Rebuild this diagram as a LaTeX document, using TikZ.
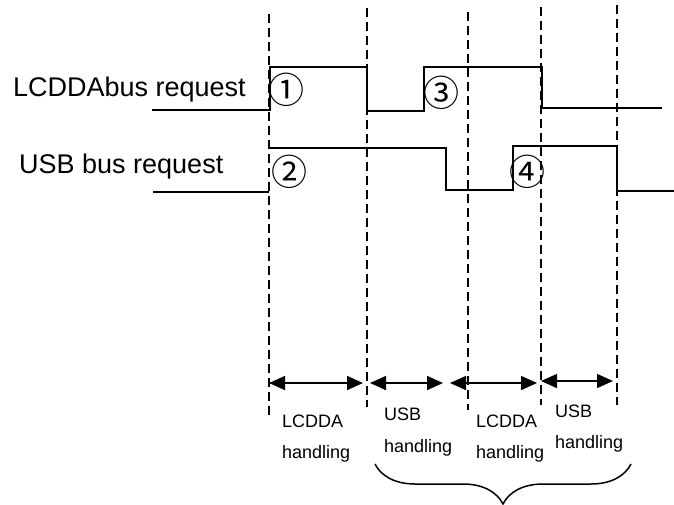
\documentclass[tikz,border=0pt]{standalone}
\usepackage{fontspec}
\setmainfont{Liberation Sans}
\newfontfamily\circfont{Noto Sans CJK SC}
\usetikzlibrary{arrows.meta,decorations.pathreplacing}

\begin{document}
\begin{tikzpicture}[x=1pt,y=-1pt,>={Triangle[length=16pt,width=14pt]}]
\useasboundingbox (0,0) rectangle (674,504);
\tikzset{tmark/.style={line width=1.5pt,dash pattern=on 9pt off 5pt},
  sig/.style={line width=1.9pt},
  big/.style={font=\fontsize{27}{30}\selectfont,inner sep=0pt},
  small/.style={font=\fontsize{18}{20}\selectfont,inner sep=0pt,anchor=base west},
  circnum/.style={font=\circfont\fontsize{36}{38}\selectfont,inner sep=0pt}}
% time marks
\coordinate (t1) at (269,14);
\coordinate (t2) at (367,8);
\coordinate (t3) at (468,12);
\coordinate (t4) at (541,7);
\coordinate (t5) at (617,5);
\draw[tmark] (t1) -- (269,416);
\draw[tmark] (t2) -- (367,407);
\draw[tmark] (t3) -- (468,410);
\draw[tmark] (t4) -- (541,405);
\draw[tmark] (t5) -- (617,405);
% signal names
\node[big,anchor=base west] (lreq) at (13,96) {LCDDAbus request};
\node[big,anchor=base west] (ureq) at (19,173) {USB bus request};
% waveforms
\draw[sig] (152,110) -- (270,110) -- (270,67) -- (367,67) -- (367,111) -- (424,111) -- (424,67) -- (542,67) -- (542,108) -- (662,108);
\draw[sig] (153,192) -- (269,192);
\draw[sig] (269,148) -- (446,148) -- (446,190) -- (513,190) -- (513,146) -- (617,146) -- (617,191) -- (674,191);
\node[circnum] (c1) at (286,90) {①};
\node[circnum] (c2) at (289,172) {②};
\node[circnum] (c3) at (441,93) {③};
\node[circnum] (c4) at (527,172) {④};
% handling intervals
\coordinate (a1) at (269,383);
\coordinate (b1) at (363,383);
\coordinate (a2) at (370,383);
\coordinate (b2) at (443,383);
\coordinate (a3) at (450,383);
\coordinate (b3) at (537,383);
\coordinate (a4) at (541,381);
\coordinate (b4) at (613,381);
\draw[<->,line width=1.5pt] (a1) -- (b1);
\draw[<->,line width=1.5pt] (a2) -- (b2);
\draw[<->,line width=1.5pt] (a3) -- (b3);
\draw[<->,line width=1.5pt] (a4) -- (b4);
\node[small] (l1) at (282,427) {LCDDA};
\node[small] (h1) at (282,458) {handling};
\node[small] (l2) at (384,420) {USB};
\node[small] (h2) at (384,452) {handling};
\node[small] (l3) at (476,427) {LCDDA};
\node[small] (h3) at (476,458) {handling};
\node[small] (l4) at (555,417) {USB};
\node[small] (h4) at (555,448) {handling};
\draw[line width=1.5pt,decorate,decoration={brace,amplitude=40pt,mirror}] (375,464) -- (631,464);
\end{tikzpicture}
\end{document}
